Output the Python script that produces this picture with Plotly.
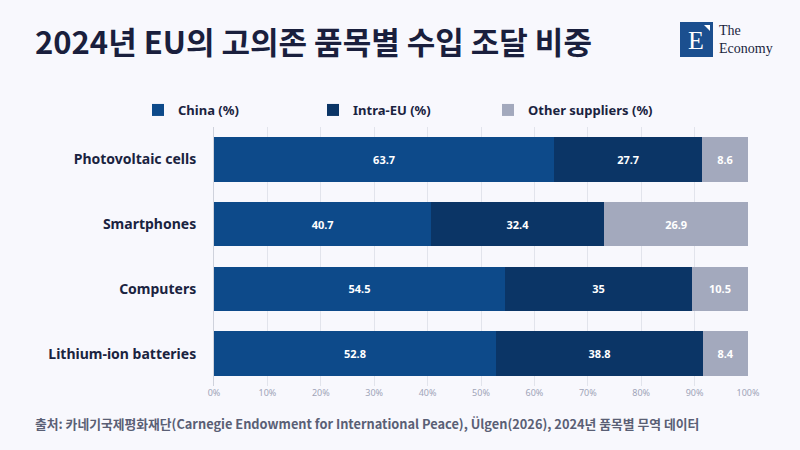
import plotly.graph_objects as go

categories = ["Photovoltaic cells", "Smartphones", "Computers", "Lithium-ion batteries"]
china = [63.7, 40.7, 54.5, 52.8]
intra_eu = [27.7, 32.4, 35, 38.8]
other = [8.6, 26.9, 10.5, 8.4]
series_names = ["China (%)", "Intra-EU (%)", "Other suppliers (%)"]
colors = ["#0d4a8a", "#0b3566", "#a3a9bd"]

BG = "#f8f8fd"
L, R, T, B = 214, 52, 127, 64
PW, PH = 800 - L - R, 450 - T - B

def px(x):
    return (x - L) / PW

def py(y):
    return 1 + (T - y) / PH

fig = go.Figure()
for name, vals, col in zip(series_names, [china, intra_eu, other], colors):
    fig.add_trace(go.Bar(
        y=categories, x=vals, name=name, orientation="h",
        marker=dict(color=col, line=dict(width=0)),
        text=[f"{v:g}" for v in vals], textposition="inside",
        insidetextanchor="middle",
        textfont=dict(family="Noto Sans", size=11, color="white", weight="bold"),
        hoverinfo="skip",
    ))

fig.update_layout(
    barmode="stack", bargap=0.31,
    width=800, height=450,
    paper_bgcolor=BG, plot_bgcolor=BG,
    margin=dict(l=L, r=R, t=T, b=B),
    showlegend=True,
    legend=dict(orientation="h", x=px(138), xanchor="left", y=py(110), yanchor="middle",
                font=dict(family="Noto Sans", size=13, color="#1a2340", weight="bold"),
                entrywidth=130, itemwidth=30, traceorder="normal", bgcolor="rgba(0,0,0,0)"),
    uniformtext=dict(minsize=8, mode="show"),
)
fig.update_xaxes(range=[0, 100], dtick=10, ticksuffix="%", showgrid=True,
                 gridcolor="#e2e4ec", gridwidth=1, zeroline=False, showline=False,
                 tickfont=dict(family="Noto Sans", size=9, color="#a0a4b8"),
                 fixedrange=True)
fig.update_yaxes(autorange="reversed", showline=True, linecolor="#cfd2dc", linewidth=1,
                 ticks="", ticklen=0, ticklabelstandoff=14,
                 tickfont=dict(family="Noto Sans", size=14, color="#1a2340", weight="bold"))

# Title
fig.add_annotation(text="<b>2024년 EU의 고의존 품목별 수입 조달 비중</b>", xref="paper", yref="paper",
                   x=px(33), y=py(40), xanchor="left", yanchor="middle",
                   showarrow=False, font=dict(family="Noto Sans CJK KR", size=31, color="#1a1f3d", weight=900))
# Source
fig.add_annotation(text="<b>출처: 카네기국제평화재단(Carnegie Endowment for International Peace), Ülgen(2026), 2024년 품목별 무역 데이터</b>",
                   xref="paper", yref="paper", x=px(33), y=py(423),
                   xanchor="left", yanchor="middle", showarrow=False,
                   font=dict(family="Noto Sans CJK KR", size=12.8, color="#5a5f75"))
# Logo
fig.add_shape(type="rect", xref="paper", yref="paper",
              x0=px(680), x1=px(713), y0=py(57), y1=py(22),
              fillcolor="#1b4f8f", line=dict(width=0), layer="below")
fig.add_shape(type="path", xref="paper", yref="paper",
              path=f"M {px(704)},{py(25)} L {px(710)},{py(25)} L {px(710)},{py(31)} Z",
              fillcolor="white", line=dict(width=0), layer="below")
fig.add_annotation(text="E", xref="paper", yref="paper", x=px(696), y=py(40),
                   xanchor="center", yanchor="middle",
                   showarrow=False, font=dict(family="Liberation Serif", size=26, color="white"))
fig.add_annotation(text="The<br>Economy", xref="paper", yref="paper", x=px(717), y=py(39),
                   xanchor="left", yanchor="middle", align="left", showarrow=False,
                   font=dict(family="Liberation Serif", size=14, color="#1a1f3d"))

fig.write_html("out.html", config={"displayModeBar": False},
               post_script="document.body.style.margin='0px';")
